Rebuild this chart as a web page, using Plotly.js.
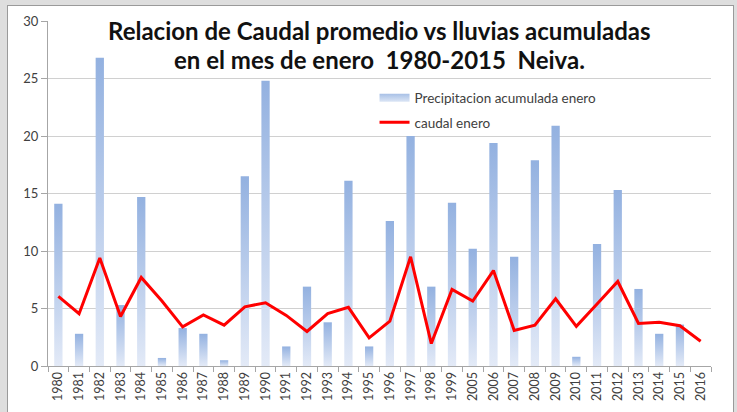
<!DOCTYPE html>
<html>
<head>
<meta charset="utf-8">
<script src="https://cdn.plot.ly/plotly-3.0.1.min.js"></script>
<style>
  html, body { margin: 0; padding: 0; width: 737px; height: 412px; overflow: hidden; background: #dedede; }
  #chart { position: absolute; left: 7px; top: 5px; width: 725px; height: 407px; background: #fff;
           border-left: 1px solid #9a9a9a; border-top: 1px solid #9a9a9a; border-right: 1px solid #9a9a9a; }
</style>
</head>
<body>
<div id="chart"></div>
<script>
const years = ["1980","1981","1982","1983","1984","1985","1986","1987","1988","1989",
               "1990","1991","1992","1993","1994","1995","1996","1997","1998","1999",
               "2005","2006","2007","2008","2009","2010","2011","2012","2013","2014","2015","2016"];
const precipitacion = [14.1, 2.8, 26.8, 5.3, 14.7, 0.7, 3.3, 2.8, 0.5, 16.5,
                       24.8, 1.7, 6.9, 3.8, 16.1, 1.7, 12.6, 20.0, 6.9, 14.2,
                       10.2, 19.4, 9.5, 17.9, 20.9, 0.8, 10.6, 15.3, 6.7, 2.8, 3.6, null];
const caudal = [6.05, 4.55, 9.4, 4.3, 7.7, 5.65, 3.4, 4.45, 3.55, 5.15,
                5.5, 4.4, 3.0, 4.55, 5.1, 2.45, 3.9, 9.5, 1.95, 6.65,
                5.65, 8.3, 3.1, 3.55, 5.85, 3.45, 5.4, 7.35, 3.7, 3.8, 3.5, 2.15];
const titleLines = ['Relacion de Caudal promedio vs lluvias acumuladas',
                    'en el mes de enero  1980-2015  Neiva.'];

const traces = [
  { type: 'bar', x: years, y: precipitacion, name: 'Precipitacion acumulada enero',
    marker: { color: '#b9cbea', line: { width: 0 } }, legendgroup: 'a' },
  { type: 'scatter', mode: 'lines', x: years, y: caudal, name: 'caudal enero',
    line: { color: '#ff0000', width: 3 }, legendgroup: 'b' }
];

const font = 'Lato, "Open Sans", "DejaVu Sans", sans-serif';
const layout = {
  width: 725, height: 407,
  margin: { l: 40, r: 22, t: 15, b: 47, pad: 0 },
  paper_bgcolor: '#ffffff', plot_bgcolor: '#ffffff',
  bargap: 0.6,
  showlegend: true,
  font: { family: font, color: '#404040', size: 12 },
  annotations: [
    { text: '<b>' + titleLines[0] + '</b>', xref: 'paper', yref: 'paper', x: 0.5, y: 1,
      xanchor: 'center', yanchor: 'top', yshift: 7, showarrow: false,
      font: { family: font, size: 24, color: '#111' } },
    { text: '<b>' + titleLines[1] + '</b>', xref: 'paper', yref: 'paper', x: 0.5, y: 1,
      xanchor: 'center', yanchor: 'top', yshift: -22, showarrow: false,
      font: { family: font, size: 24, color: '#111' } }
  ],
  legend: { x: 0.4925, y: 0.822, xanchor: 'left', yanchor: 'top', bgcolor: 'rgba(0,0,0,0)',
            font: { family: font, size: 13.5, color: '#404040' }, traceorder: 'grouped', tracegroupgap: 4 },
  xaxis: { type: 'category', tickangle: -90, tickfont: { family: font, size: 12.5, color: '#404040' },
           showline: true, linecolor: '#a6a6a6', linewidth: 1, ticks: 'outside', ticklen: 5,
           tickcolor: '#a6a6a6', tickson: 'boundaries', showgrid: false, zeroline: false,
           range: [-0.5, 31.5] },
  yaxis: { range: [0, 30], dtick: 5, tick0: 0, tickfont: { family: font, size: 13, color: '#404040' },
           showline: true, linecolor: '#a6a6a6', linewidth: 1, ticks: 'outside', ticklen: 6,
           tickcolor: '#a6a6a6', showgrid: true, gridcolor: '#d0d0d0', gridwidth: 1, zeroline: false },
};

Plotly.newPlot('chart', traces, layout, { staticPlot: true, displayModeBar: false }).then(function (gd) {
  const svg = gd.querySelector('svg.main-svg');
  const ns = 'http://www.w3.org/2000/svg';
  let defs = svg.querySelector('defs');
  if (!defs) { defs = document.createElementNS(ns, 'defs'); svg.insertBefore(defs, svg.firstChild); }
  function addGrad(id, c1, c2) {
    const g = document.createElementNS(ns, 'linearGradient');
    g.setAttribute('id', id);
    g.setAttribute('x1', '0'); g.setAttribute('y1', '0');
    g.setAttribute('x2', '0'); g.setAttribute('y2', '1');
    [['0%', c1], ['100%', c2]].forEach(function (s) {
      const st = document.createElementNS(ns, 'stop');
      st.setAttribute('offset', s[0]); st.setAttribute('stop-color', s[1]);
      g.appendChild(st);
    });
    defs.appendChild(g);
  }
  addGrad('barGrad', '#93b1e0', '#e3eaf7');
  addGrad('legGrad', '#a7c0e6', '#dbe5f5');
  gd.querySelectorAll('.barlayer .point path').forEach(function (p) {
    p.style.fill = 'url(#barGrad)';
  });
  gd.querySelectorAll('.legend .legendpoints path').forEach(function (p) {
    if (p.style.fill && p.style.fill !== 'none' && p.style.fill.indexOf('255, 0, 0') === -1) {
      p.setAttribute('d', 'M-15,-4h30v8h-30Z');
      p.style.fill = 'url(#legGrad)';
    }
  });
});
</script>
</body>
</html>
